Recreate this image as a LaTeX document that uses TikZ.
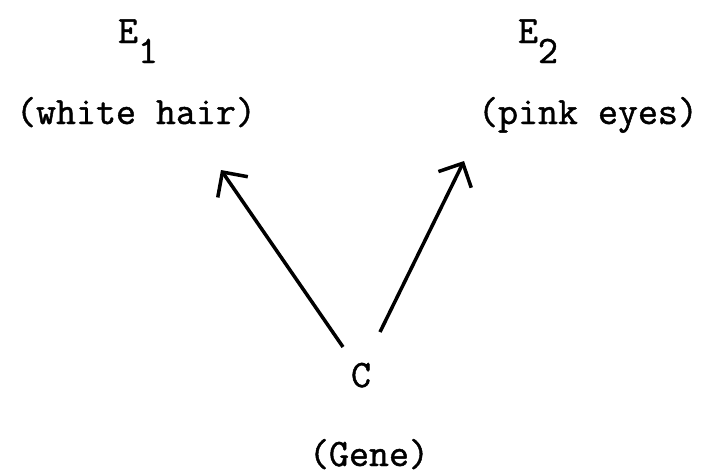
\documentclass[tikz,border=0pt]{standalone}
\usepackage{fontspec}
\setmonofont{Latin Modern Mono}[FakeBold=1.2]
\usepackage{tikz}
\usetikzlibrary{arrows.meta, positioning}
\tikzset{
  lbl/.style={font=\fontsize{27.6}{33}\selectfont\ttfamily, inner sep=0pt, anchor=base},
  pil/.style={-{Straight Barb[length=13pt,width=26pt]}, line width=2.5pt},
}
\newcommand{\tief}[1]{\raisebox{-0.5cm}{#1}}

\begin{document}
\begin{tikzpicture}[x=0.025cm, y=-0.025cm]
  \useasboundingbox (0,0) rectangle (704,475);
  % Wirkungen oben
  \node[lbl] (e1) at (138,43) {E\tief{1}};
  \node[lbl] (e2) at (538,43) {E\tief{2}};
  \node[lbl] (w1) at (136,124) {(white hair)};
  \node[lbl] (w2) at (588,124) {(pink eyes)};
  % Ursache unten
  \node[lbl] (c) at (361,387) {C};
  \node[lbl] (gen) at (369,466) {(Gene)};
  % Pfeilspitzen
  \coordinate (s1) at (221,170);
  \coordinate (s2) at (464,161);
  \draw[pil] ([shift={(-18,-40)}]c.base) -- (s1);
  \draw[pil] ([shift={(19,-55)}]c.base) -- (s2);
\end{tikzpicture}
\end{document}
